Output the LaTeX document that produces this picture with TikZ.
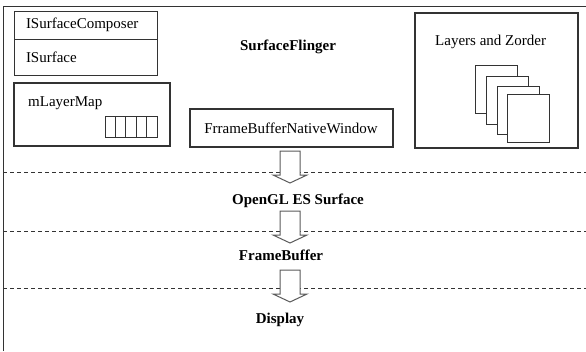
\documentclass[tikz,border=0pt]{standalone}
\usepackage{fontspec}
\setmainfont{Liberation Serif}
\usepackage{tikz}
\usetikzlibrary{calc}
\definecolor{frame}{HTML}{333333}
\definecolor{arrowgray}{HTML}{5A5A5A}

\begin{document}
\begin{tikzpicture}[x=1pt,y=-1pt,font=\fontsize{15}{18}\selectfont,
  thinbox/.style={draw=frame,line width=0.9pt},
  thickbox/.style={draw=frame,line width=2pt},
  lbl/.style={inner sep=0pt,anchor=west},
  stage/.style={inner sep=0pt,font=\fontsize{15}{18}\selectfont\bfseries},
  page/.style={draw=frame,line width=0.9pt,fill=white},
  blockarrow/.style={draw=arrowgray,line width=1pt,fill=white,line join=miter}]
\useasboundingbox (0,0) rectangle (586,351);
% outer frame
\draw[frame,line width=0.9pt] (3,351) -- (3,6) -- (586,6);
% interfaces
\node[thinbox,minimum width=143pt,minimum height=28pt,text width=119pt,
  inner xsep=12pt,inner ysep=0pt,align=left] (comp) at (85.5,25) {ISurfaceComposer};
\node[thinbox,minimum width=143pt,minimum height=36pt,text width=119pt,
  inner xsep=12pt,inner ysep=0pt,align=left] (surf) at (85.5,57) {ISurface};
% layer map
\node[thickbox,minimum width=156pt,minimum height=63pt] (map) at (92,114.5) {};
\node[lbl] (maptxt) at (28,103) {mLayerMap};
\foreach \i in {0,...,4}
  \draw[frame,line width=0.9pt] (105+\i*10.4,116) rectangle ++(10.4,21);
% flinger
\node[stage] (flinger) at (288,47) {SurfaceFlinger};
\node[thickbox,minimum width=203pt,minimum height=38pt,inner sep=0pt] (fbnw) at (291,128) {FrrameBufferNativeWindow};
% layers and zorder
\node[thickbox,minimum width=163pt,minimum height=135pt] (layers) at (496.5,80.5) {};
\node[lbl] (laytxt) at (435,42) {Layers and Zorder};
\foreach \x/\y in {475/65,486/76,497/86,507/94}
  \draw[page] (\x,\y) rectangle ++(42,48);
% levels
\foreach \y in {172,231,288}
  \draw[frame,line width=0.8pt,dash pattern=on 4pt off 3pt] (3,\y) -- (586,\y);
\node[stage] (gles) at (298,201) {OpenGL ES Surface};
\node[stage] (fb) at (281,255) {FrameBuffer};
\node[stage] (disp) at (280,320) {Display};
% block arrows
\foreach \t in {151,211,270}
  \draw[blockarrow] (280,\t) -- (300,\t) -- (300,\t+24) -- (307,\t+24)
    -- (290,\t+32) -- (273,\t+24) -- (280,\t+24) -- cycle;
\end{tikzpicture}
\end{document}
